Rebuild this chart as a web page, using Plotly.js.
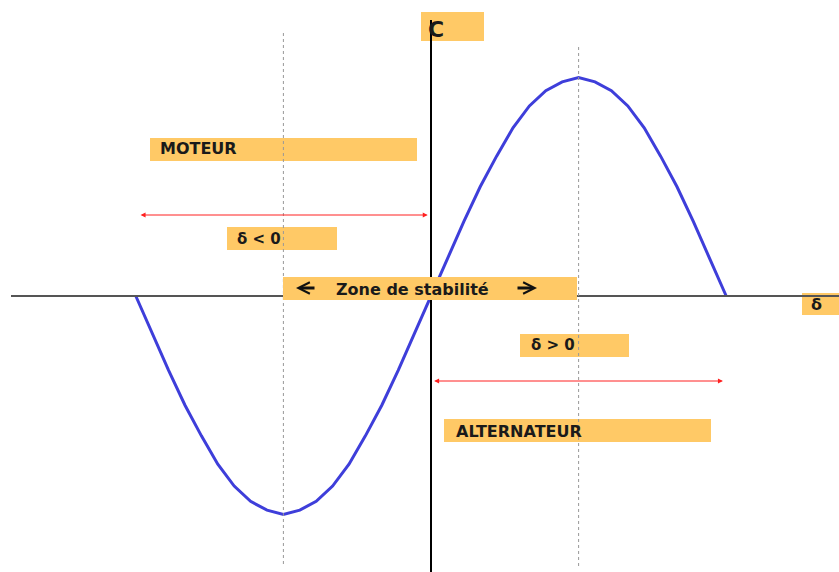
<!DOCTYPE html>
<html>
<head>
<meta charset="utf-8">
<script src="https://cdn.plot.ly/plotly-3.0.1.min.js"></script>
<style>html,body{margin:0;padding:0;background:#fff;}#chart{width:839px;height:572px;}</style>
</head>
<body>
<div id="chart"></div>
<script>
// Load angle delta (degrees) and torque C (normalised)
const deltaDeg = [-180,-170,-160,-150,-140,-130,-120,-110,-100,-90,-80,-70,-60,-50,-40,-30,-20,-10,0,10,20,30,40,50,60,70,80,90,100,110,120,130,140,150,160,170,180];
const couple = [0,-0.17,-0.34,-0.5,-0.64,-0.77,-0.87,-0.94,-0.98,-1.0,-0.98,-0.94,-0.87,-0.77,-0.64,-0.5,-0.34,-0.17,0,0.17,0.34,0.5,0.64,0.77,0.87,0.94,0.98,1.0,0.98,0.94,0.87,0.77,0.64,0.5,0.34,0.17,0];
const boxLabels = ["C","MOTEUR","δ < 0","Zone de stabilité","δ > 0","ALTERNATEUR","δ"];
const stabilityLimits = [-90, 90];
const motorRange = [-180, 0];
const generatorRange = [0, 180];

const W = 839, H = 572;
const px = v => v / W;           // pixel -> paper x
const py = v => 1 - v / H;       // pixel -> paper y
const boxFill = '#FFC966';

const rect = (b, layer) => ({
  type:'rect', xref:'paper', yref:'paper', layer:layer,
  x0:px(b[0]), x1:px(b[2]), y0:py(b[3]), y1:py(b[1]),
  fillcolor:boxFill, line:{width:0}
});
const shapes = [
  rect([421,12,484,41],'below'),
  rect([150,138,417,161],'below'),
  rect([227,227,337,250],'below'),
  rect([520,334,629,357],'below'),
  rect([444,419,711,442],'below'),
  rect([802,293,839,315],'below')
];
// horizontal axis
shapes.push({type:'line', xref:'paper', yref:'y', x0:px(11), x1:1, y0:0, y1:0, line:{color:'#555', width:2}, layer:'above'});
// vertical axis
shapes.push({type:'line', xref:'x', yref:'paper', x0:0, x1:0, y0:py(20), y1:0, line:{color:'#000', width:2}, layer:'above'});
// dotted stability limits
shapes.push({type:'line', xref:'x', yref:'paper', x0:stabilityLimits[0], x1:stabilityLimits[0], y0:py(33), y1:py(565), line:{color:'#999', width:1, dash:'dot'}, layer:'above'});
shapes.push({type:'line', xref:'x', yref:'paper', x0:stabilityLimits[1], x1:stabilityLimits[1], y0:py(47), y1:py(567), line:{color:'#999', width:1, dash:'dot'}, layer:'above'});
// stability zone box drawn over the axes and curve
shapes.push(rect([283,277,577,300],'above'));

const font = (size) => ({family:'DejaVu Sans', size:size, color:'#1a1a1a', weight:'bold'});
const txt = (text, x, y, size, anchor) => ({
  text:text, xref:'paper', yref:'paper', x:px(x), y:py(y), xanchor:anchor||'left', yanchor:'middle',
  showarrow:false, font:font(size)
});
const annotations = [
  txt(boxLabels[0], 426, 29, 22),
  txt(boxLabels[1], 158, 149, 16),
  txt(boxLabels[2], 235, 239, 15),
  txt(boxLabels[3], 412, 289, 16, 'center'),
  txt(boxLabels[4], 529, 345, 15),
  txt(boxLabels[5], 454, 431, 16),
  txt(boxLabels[6], 809, 304, 16)
];
// bold black arrows inside the stability box
const blackArrow = (fromX, toX, y) => ({
  text:'', xref:'paper', yref:'paper', axref:'paper', ayref:'paper',
  x:px(toX), y:py(y), ax:px(fromX), ay:py(y), showarrow:true,
  arrowhead:5, arrowsize:0.7, arrowwidth:3.2, arrowcolor:'#111', standoff:0
});
annotations.push(blackArrow(316, 296, 288));
annotations.push(blackArrow(516, 537, 288));
// red double arrows
const redArrow = (xa, xb, ypix) => ({
  text:'', xref:'x', yref:'paper', axref:'x', ayref:'paper',
  x:xb, y:py(ypix), ax:xa, ay:py(ypix), showarrow:true,
  arrowside:'end+start', arrowhead:2, startarrowhead:2, arrowsize:1, startarrowsize:1,
  arrowwidth:1, arrowcolor:'#ff2020', standoff:0, startstandoff:0
});
annotations.push(redArrow(motorRange[0]+2, motorRange[1]-2, 215));
annotations.push(redArrow(generatorRange[0]+1, generatorRange[1]-2, 381));

const trace = {
  x:deltaDeg, y:couple, type:'scatter', mode:'lines',
  line:{color:'rgb(62,62,218)', width:3}, hoverinfo:'skip'
};

const layout = {
  width:W, height:H, margin:{l:0,r:0,t:0,b:0},
  paper_bgcolor:'#fff', plot_bgcolor:'#fff', showlegend:false,
  xaxis:{range:[-431/1.64, 408/1.64], visible:false, fixedrange:true},
  yaxis:{range:[-276/218.5, 296/218.5], visible:false, fixedrange:true},
  shapes:shapes, annotations:annotations
};
Plotly.newPlot('chart', [trace], layout, {staticPlot:true, displayModeBar:false});
</script>
</body>
</html>
